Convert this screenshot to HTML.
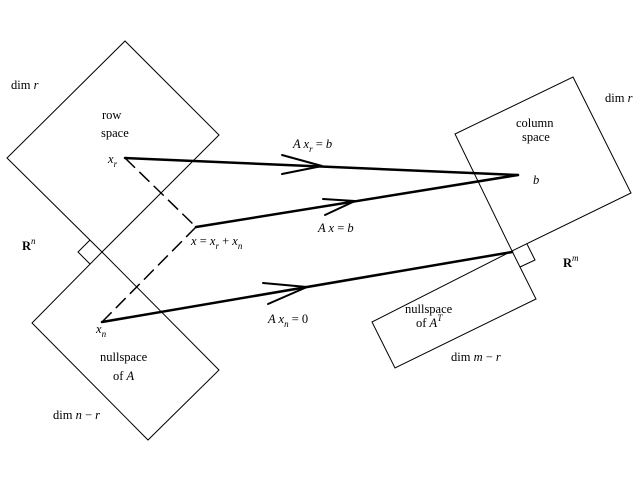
<!DOCTYPE html>
<html><head><meta charset="utf-8"><style>
html,body{margin:0;padding:0;background:#fff;}
svg{display:block;}
text{font-family:"Liberation Serif",serif;font-size:12.5px;fill:#000;}
.i{font-style:italic;}
.s{font-size:9px;font-style:italic;}
</style></head><body>
<svg width="642" height="479" viewBox="0 0 642 479" xmlns="http://www.w3.org/2000/svg">
<rect width="642" height="479" fill="#fff"/>
<g fill="none" stroke="#000" stroke-width="1">
<polygon points="125,41 219,135 102,252 7,158"/>
<polygon points="102,252 219,370 148,440 32,323"/>
<polyline points="90,240 78,252 90,264"/>
<polygon points="573,77 631,193 512,251 455,134"/>
<polygon points="512,251 536,299 395,368 372,322"/>
<polyline points="527,244 535,260 520,267"/>
</g>
<g fill="none" stroke="#000" stroke-width="1.5" stroke-dasharray="14 6">
<line x1="125" y1="158" x2="196" y2="227"/>
<line x1="196" y1="227" x2="102" y2="322"/>
</g>
<g fill="none" stroke="#000" stroke-width="2.5" stroke-linecap="round" stroke-linejoin="round">
<line x1="125" y1="158" x2="518" y2="175"/>
<line x1="196" y1="227" x2="518" y2="175"/>
<line x1="102" y1="322" x2="512" y2="252"/>
</g>
<g fill="none" stroke="#000" stroke-width="2" stroke-linecap="round" stroke-linejoin="round">
<polyline points="282,155 322,166 282,174"/>
<polyline points="323,199 355,201 325,215"/>
<polyline points="263,283 307,287 268,304"/>
</g>

<text x="11" y="89">dim <tspan class="i">r</tspan></text>
<text x="102" y="119">row</text>
<text x="101" y="137">space</text>
<text x="108" y="163" class="i">x<tspan class="s" dy="4">r</tspan></text>
<text x="22" y="250" font-weight="bold">R<tspan class="s" font-weight="normal" dy="-6">n</tspan></text>
<text x="191" y="245"><tspan class="i">x</tspan> = <tspan class="i">x</tspan><tspan class="s" dy="4">r</tspan><tspan dy="-4"> + </tspan><tspan class="i">x</tspan><tspan class="s" dy="4">n</tspan></text>
<text x="96" y="333" class="i">x<tspan class="s" dy="4">n</tspan></text>
<text x="100" y="361">nullspace</text>
<text x="113" y="380">of <tspan class="i">A</tspan></text>
<text x="53" y="419">dim <tspan class="i">n</tspan> − <tspan class="i">r</tspan></text>
<text x="293" y="148"><tspan class="i">A x</tspan><tspan class="s" dy="4">r</tspan><tspan dy="-4"> = </tspan><tspan class="i">b</tspan></text>
<text x="318" y="232"><tspan class="i">A x</tspan> = <tspan class="i">b</tspan></text>
<text x="268" y="323"><tspan class="i">A x</tspan><tspan class="s" dy="4">n</tspan><tspan dy="-4"> = 0</tspan></text>
<text x="516" y="127">column</text>
<text x="522" y="141">space</text>
<text x="533" y="184" class="i">b</text>
<text x="605" y="102">dim <tspan class="i">r</tspan></text>
<text x="563" y="267" font-weight="bold">R<tspan class="s" font-weight="normal" dy="-6">m</tspan></text>
<text x="405" y="313">nullspace</text>
<text x="416" y="327">of <tspan class="i">A</tspan><tspan class="s" dy="-6">T</tspan></text>
<text x="451" y="361">dim <tspan class="i">m</tspan> − <tspan class="i">r</tspan></text>
</svg>
</body></html>
